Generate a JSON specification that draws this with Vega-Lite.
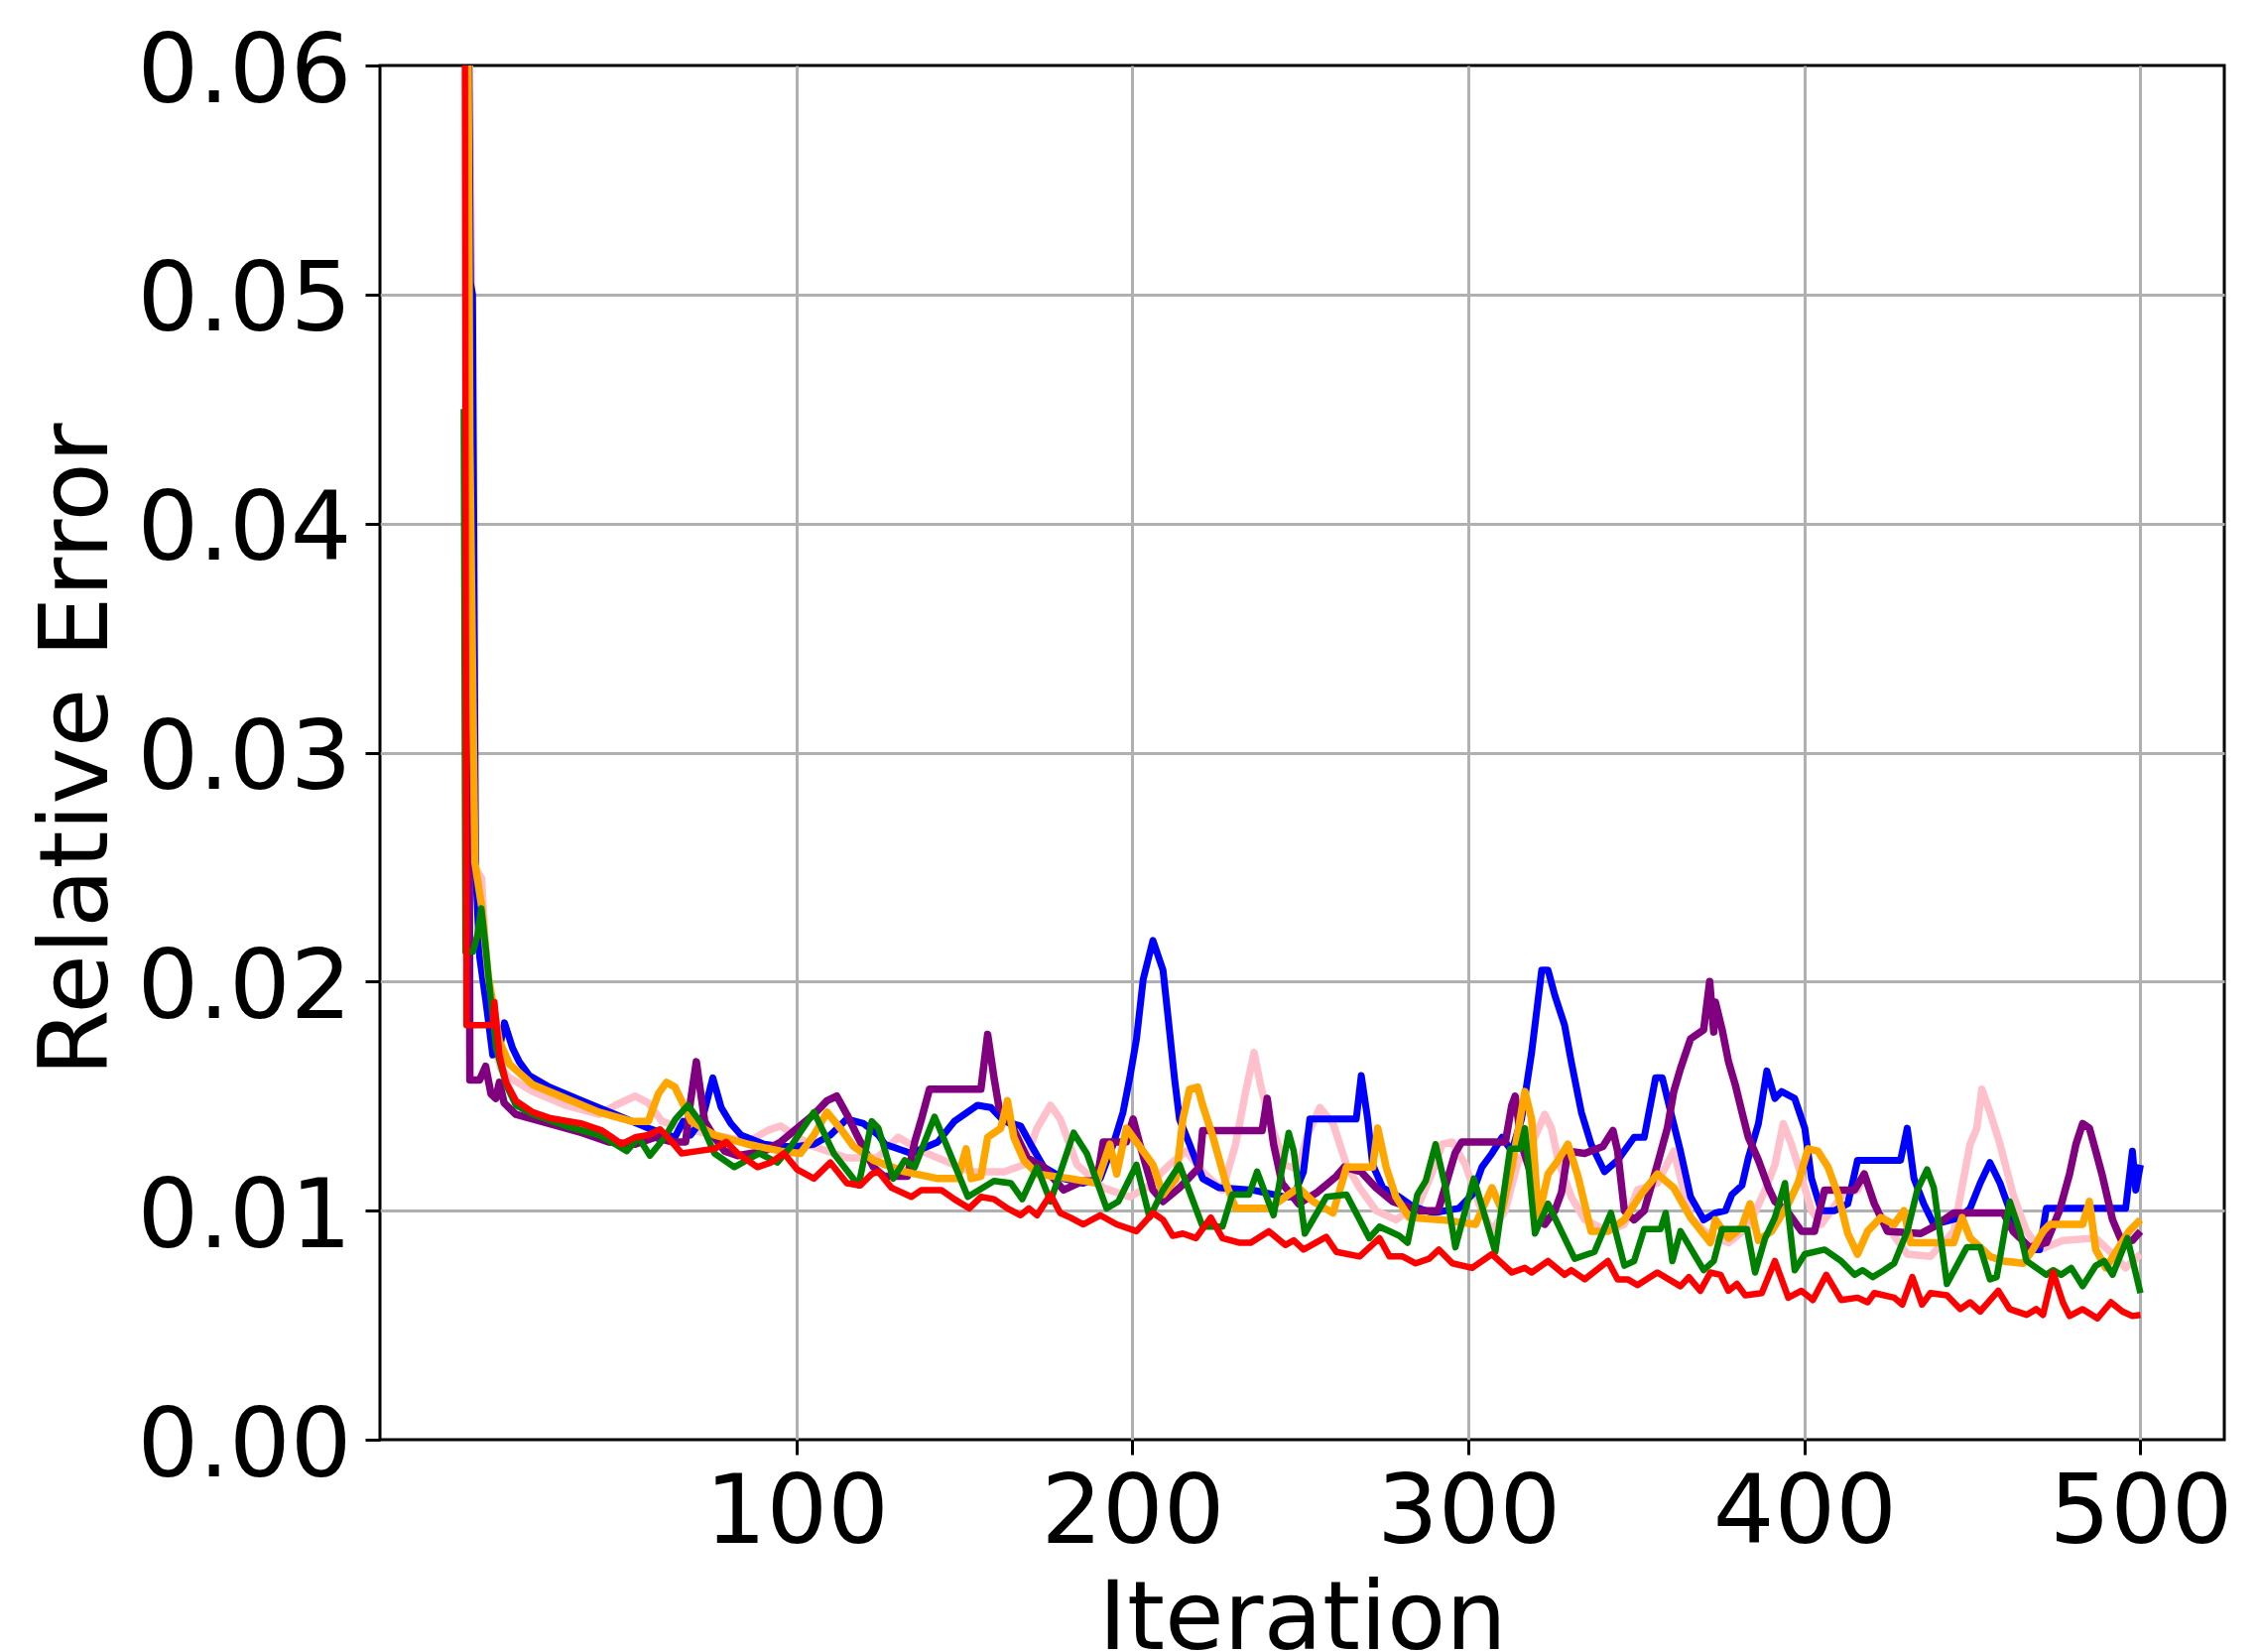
{
"$schema": "https://vega.github.io/schema/vega-lite/v6.json",
"width": 1859, "height": 1385,
"autosize": {"type": "none"},
"padding": {"left": 383, "top": 66, "right": 37, "bottom": 214},
"background": "white",
"config": {"view": {"stroke": "black", "strokeWidth": 3}},
"datasets": {
"blue": [[1,0.12],[2,0.07],[3,0.0505],[3.6,0.05],[4.5,0.025],[5.7,0.0211],[7.7,0.019],[9.6,0.0168],[11.5,0.017],[13.1,0.0182],[15.5,0.0171],[17.5,0.0165],[20.5,0.0159],[26.4,0.0154],[36.2,0.0148],[46.1,0.0142],[55.9,0.0136],[63.8,0.0132],[66.3,0.0139],[68.5,0.0133],[72,0.014],[75.1,0.0158],[77.6,0.0145],[80.5,0.0138],[83.5,0.0133],[90.4,0.0129],[95.3,0.0128],[100.2,0.0128],[105.2,0.0129],[110.1,0.0133],[115,0.014],[120,0.0138],[124.4,0.0133],[126.3,0.0129],[134.2,0.0125],[142.1,0.013],[147,0.0139],[153.9,0.0146],[157.9,0.0145],[161.8,0.0139],[166.7,0.0137],[169.7,0.0129],[173.6,0.0119],[179.5,0.0114],[185.4,0.0112],[190.4,0.0114],[194.3,0.0129],[197.2,0.0143],[199.2,0.0158],[201.2,0.0175],[203.2,0.0201],[206.1,0.0218],[209.1,0.0205],[211,0.0179],[212.5,0.0158],[214,0.014],[217,0.0129],[220.9,0.0114],[225.8,0.011],[235.7,0.0109],[245.5,0.0106],[247.9,0.0106],[250.9,0.0117],[252.8,0.014],[266.6,0.014],[268.1,0.0159],[270,0.014],[271.5,0.012],[274.5,0.011],[279.4,0.0106],[283.3,0.0102],[289.3,0.0099],[297.1,0.0101],[301.1,0.0107],[304,0.0119],[307,0.0125],[310,0.0132],[312.9,0.0126],[315.8,0.014],[318.8,0.0169],[321.8,0.0205],[323.7,0.0205],[325.7,0.0194],[328.6,0.0181],[330.6,0.0165],[333.6,0.0143],[336.5,0.0129],[340.5,0.0117],[344.4,0.0122],[349.3,0.0132],[352.3,0.0132],[355.7,0.0158],[357.7,0.0158],[360.2,0.0143],[363.1,0.0126],[366.1,0.0106],[370,0.0096],[373.5,0.0099],[376.5,0.01],[378.4,0.0107],[381.4,0.0111],[383.3,0.0123],[386.3,0.0138],[388.8,0.0161],[391.2,0.0149],[393.2,0.0152],[397.1,0.0149],[400.1,0.0136],[402.1,0.0114],[405,0.01],[409,0.01],[412.9,0.0103],[415.8,0.0122],[428.6,0.0122],[430.6,0.0136],[432.6,0.0114],[435.5,0.0103],[438.5,0.0094],[446.4,0.0097],[449.3,0.0101],[452.3,0.0112],[455.2,0.0121],[458.2,0.0112],[462.1,0.0096],[466.1,0.0083],[470,0.0083],[472,0.0101],[495.6,0.0101],[497.6,0.0126],[498.6,0.0109],[500,0.012]],
"purple": [[1,0.1],[2,0.065],[2.8,0.0157],[5.7,0.0157],[7.5,0.0163],[9.1,0.0151],[10.5,0.0149],[11.6,0.0156],[13,0.0147],[16.5,0.0142],[26.4,0.0138],[36.2,0.0134],[44.1,0.013],[52,0.0129],[58,0.0132],[63,0.013],[67,0.013],[68.5,0.0148],[70.2,0.0165],[72.7,0.0139],[75.6,0.0132],[78.6,0.0126],[82.5,0.0124],[90.4,0.0126],[95.3,0.013],[100.2,0.0136],[105.2,0.0142],[109.1,0.0148],[112,0.015],[115,0.0142],[118,0.0133],[122.9,0.0119],[126,0.0115],[133,0.0115],[135.2,0.013],[137.2,0.014],[139.6,0.0153],[154.9,0.0153],[156.9,0.0177],[158.8,0.0158],[160.3,0.0145],[163.8,0.0138],[168.7,0.0123],[173.6,0.0119],[179.5,0.0109],[185.4,0.0113],[189.4,0.0113],[191.3,0.013],[198.2,0.013],[200.2,0.014],[202.2,0.0129],[206.1,0.0109],[209.1,0.0104],[214,0.011],[219.9,0.0119],[220.9,0.0135],[238.6,0.0135],[240.1,0.0149],[242,0.0129],[244.5,0.0112],[249.4,0.0103],[255,0.0108],[260.7,0.0115],[263,0.0119],[268,0.0117],[272.5,0.011],[277.4,0.0104],[285.3,0.01],[291,0.01],[296,0.0125],[298,0.013],[311,0.013],[312.9,0.0146],[313.9,0.015],[315.8,0.0129],[318.8,0.0115],[322.7,0.0094],[325.7,0.01],[327.7,0.0108],[329.6,0.0126],[334.6,0.0125],[340,0.0128],[343,0.0135],[344.4,0.0126],[346.4,0.01],[349.3,0.0096],[352.3,0.01],[356.2,0.012],[359.2,0.0136],[361.1,0.0152],[363.1,0.0162],[366.1,0.0175],[370,0.0179],[371.8,0.02],[373,0.0178],[373.5,0.0191],[375.5,0.0179],[377.4,0.0165],[379.4,0.0155],[381.4,0.0143],[383.3,0.0132],[386.3,0.0122],[389.3,0.011],[391.2,0.0104],[395.2,0.0099],[399.1,0.0091],[403,0.0091],[406,0.0109],[414.9,0.0109],[417.8,0.0116],[420.8,0.0103],[424.7,0.0091],[434.6,0.009],[438.5,0.0093],[444.4,0.0099],[459.2,0.0099],[462.1,0.0091],[467,0.0084],[472,0.0086],[475.9,0.01],[478.9,0.0116],[480.8,0.0129],[482.8,0.0138],[484.8,0.0136],[486.7,0.0126],[488.7,0.0115],[491.7,0.0096],[494.6,0.0086],[497.6,0.0087],[500,0.0091]],
"pink": [[1,0.1],[2,0.07],[3.3,0.0507],[4.3,0.025],[6.3,0.0245],[8,0.02],[9.6,0.0175],[12,0.0162],[14.6,0.0158],[21.5,0.0152],[31.3,0.0146],[41.2,0.0142],[46.1,0.0146],[52,0.015],[55.9,0.0147],[60,0.0139],[66,0.0136],[75.6,0.0133],[85.5,0.013],[91.4,0.0135],[95.3,0.0137],[99.3,0.0133],[105.2,0.0128],[115,0.0123],[124,0.0123],[130.3,0.0132],[137.2,0.0126],[147,0.012],[151.9,0.0117],[161.8,0.0117],[167.7,0.012],[171.6,0.0136],[175.6,0.0146],[178.5,0.014],[183.5,0.012],[191.3,0.011],[199.2,0.0106],[204.1,0.011],[211,0.012],[216,0.0126],[220.9,0.0117],[226.8,0.0109],[230.7,0.0129],[233.7,0.0152],[236.2,0.0169],[238.1,0.0155],[240.6,0.014],[245.5,0.012],[249.4,0.0118],[251.8,0.0132],[255.8,0.0145],[259.7,0.0138],[263.7,0.012],[267.6,0.011],[272.5,0.01],[278.4,0.0096],[285.3,0.0103],[289.3,0.0117],[292.2,0.0129],[295.2,0.013],[299.1,0.012],[303.1,0.0103],[307,0.0091],[310.9,0.01],[314.9,0.0122],[318.8,0.0129],[322.7,0.0142],[324.7,0.0136],[326.7,0.0122],[330.6,0.0106],[334.6,0.0096],[341.5,0.0091],[346.4,0.0094],[350.3,0.0109],[356.2,0.0112],[361.1,0.0126],[366.1,0.0097],[371,0.009],[373.5,0.0088],[377.4,0.0086],[383.3,0.0093],[388.3,0.0109],[391.2,0.012],[393.7,0.0138],[396.1,0.0129],[399.1,0.0115],[402.1,0.01],[405,0.0094],[410.9,0.0106],[415.8,0.0109],[417.8,0.0116],[420.8,0.0103],[424.7,0.0093],[430.6,0.0081],[437.5,0.008],[444.4,0.0091],[449.3,0.0129],[451.3,0.0136],[452.8,0.0153],[455.2,0.0143],[458.2,0.0129],[462.1,0.0107],[466.1,0.0091],[470,0.0083],[476.9,0.0087],[486.7,0.0088],[491.7,0.0081],[495.6,0.0075],[500,0.0081]],
"orange": [[1,0.1],[2,0.07],[2.8,0.0435],[4.3,0.0252],[6.3,0.0233],[8.3,0.0202],[11.6,0.0174],[14.6,0.0164],[21.5,0.0155],[31.3,0.0149],[41.2,0.0143],[51,0.0139],[55.9,0.0139],[58.9,0.0151],[61.3,0.0156],[63.8,0.0154],[65.8,0.0148],[68.7,0.0139],[75.6,0.0133],[85.5,0.0129],[95.3,0.0126],[101.2,0.0125],[105.2,0.0133],[109.1,0.0143],[113,0.0136],[117,0.0128],[122.9,0.0122],[132.2,0.0117],[142.1,0.0114],[148,0.0114],[150.5,0.0127],[152,0.0114],[154.9,0.0115],[156.9,0.0132],[160.8,0.0136],[162.8,0.0148],[164.7,0.0132],[167.7,0.0122],[171.6,0.0116],[181.5,0.0114],[189.4,0.0112],[193.3,0.0129],[195.3,0.0116],[198.2,0.0136],[201.2,0.013],[206.1,0.012],[209.1,0.0107],[213,0.0114],[215,0.014],[217,0.0153],[219.4,0.0154],[220.9,0.0146],[223.8,0.0133],[227.8,0.0112],[230.7,0.0101],[240.6,0.0101],[245.5,0.0106],[249.4,0.011],[253.8,0.0104],[259.7,0.0099],[263.7,0.0119],[271.5,0.0119],[273,0.0136],[275.5,0.0119],[278.4,0.0106],[282.4,0.0097],[292.2,0.0096],[302.1,0.0094],[307,0.011],[310,0.01],[312.9,0.0119],[316.8,0.0152],[318.8,0.014],[320.8,0.0097],[323.7,0.0116],[326.7,0.0122],[329.6,0.0129],[332.6,0.0115],[336.5,0.0091],[341.5,0.0091],[346.4,0.0096],[351.3,0.0107],[356.2,0.0116],[361.1,0.011],[366.1,0.0097],[372,0.0086],[373.5,0.0096],[377.4,0.0088],[381.4,0.0093],[383.8,0.0103],[386.3,0.0087],[390.2,0.0091],[395.2,0.0103],[398.1,0.0112],[401.1,0.0127],[404,0.0126],[407,0.0119],[410,0.0107],[412.9,0.009],[415.8,0.0081],[418.8,0.0091],[422.7,0.0097],[426.7,0.0094],[429.6,0.01],[431.6,0.0086],[444.4,0.0086],[446.9,0.0097],[449.3,0.0088],[455.2,0.008],[459.2,0.0078],[465.1,0.0077],[468,0.0083],[471,0.0091],[473,0.0094],[482.8,0.0094],[484.8,0.0104],[486.7,0.0083],[489.7,0.0075],[493.6,0.0084],[496.6,0.0091],[500,0.0096]],
"green": [[1,0.045],[1.5,0.0213],[3.7,0.0213],[5,0.022],[6.2,0.0232],[7.5,0.0215],[8.7,0.0197],[10.6,0.0171],[13.6,0.0155],[16.5,0.0146],[21.5,0.0142],[31.3,0.0137],[41.2,0.0133],[46.1,0.0129],[49.5,0.0126],[53,0.0132],[56.4,0.0124],[60.8,0.0132],[64,0.014],[67.7,0.0146],[71.7,0.0138],[75.6,0.0125],[81.5,0.0119],[88.9,0.0125],[94.3,0.0121],[98.3,0.0128],[105.2,0.0143],[111.1,0.0125],[118.5,0.0111],[122.4,0.0139],[124.4,0.0136],[128.8,0.0114],[132.2,0.0122],[135.2,0.0119],[141.1,0.0141],[145.1,0.0127],[151,0.0106],[158.8,0.0113],[163.8,0.0112],[167.2,0.0105],[171.6,0.0119],[175.6,0.0104],[182.5,0.0134],[186.4,0.0125],[192.3,0.0101],[195.8,0.0104],[201.2,0.012],[205.1,0.0097],[209.1,0.0109],[214,0.012],[220.9,0.0093],[226.8,0.0093],[229.7,0.0107],[234.7,0.0107],[237.1,0.0117],[242,0.0098],[246.5,0.0134],[248,0.0126],[251.3,0.009],[257.7,0.0106],[263.7,0.0107],[270.5,0.0088],[273.5,0.0093],[279.4,0.0089],[281.9,0.0086],[284.8,0.0107],[287.3,0.0113],[290.2,0.0129],[293.2,0.011],[296.1,0.0084],[301.6,0.0114],[308,0.0082],[312.4,0.0127],[315.4,0.0127],[316.8,0.0136],[319.8,0.009],[323.7,0.0103],[331.6,0.0079],[337.5,0.0082],[342.4,0.0099],[346.4,0.0076],[349.3,0.0078],[352.3,0.0092],[357.2,0.0092],[358.7,0.0099],[360.7,0.0078],[363.1,0.0091],[370,0.0074],[373,0.0078],[375.5,0.0092],[382.9,0.0092],[385.3,0.0073],[388.3,0.0088],[391.2,0.0097],[394.2,0.0112],[397.1,0.0074],[400.1,0.0081],[406,0.0083],[410.9,0.0078],[414.9,0.0072],[417.3,0.0074],[420.3,0.0071],[423.7,0.0074],[426.7,0.0077],[430.6,0.0091],[433.6,0.0109],[436.5,0.0118],[438.5,0.011],[442.4,0.0068],[448.3,0.0084],[452.3,0.0084],[455.2,0.007],[457.2,0.0071],[461.1,0.0104],[464.1,0.0091],[466.1,0.0078],[472,0.0072],[474,0.0074],[476.4,0.0072],[479.4,0.0075],[482.8,0.0067],[486.7,0.0076],[489.2,0.0078],[491.7,0.0072],[496.1,0.0088],[500,0.0064]],
"red": [[1,0.09],[1.8,0.0181],[9.6,0.0181],[10.1,0.0191],[11.6,0.0168],[13.6,0.0156],[16.5,0.0148],[21.5,0.0143],[26.4,0.01405],[36.2,0.0138],[42.1,0.0135],[45.1,0.0132],[48,0.0129],[52,0.0132],[55.9,0.0133],[59.4,0.01355],[61.8,0.0132],[65.8,0.0125],[70.7,0.0126],[75.6,0.0127],[79.1,0.013],[82.5,0.0125],[88.4,0.0119],[92.4,0.0121],[96.3,0.0125],[100.2,0.0118],[105.2,0.0114],[110.1,0.0121],[115,0.0112],[119,0.0111],[122.4,0.0116],[124.4,0.0117],[128.3,0.011],[134.2,0.0106],[137.2,0.0109],[143.1,0.0109],[147,0.0105],[151.4,0.0101],[154.9,0.0106],[158.8,0.0105],[162.8,0.0101],[166.7,0.0098],[169.2,0.0101],[171.6,0.0098],[175.6,0.0107],[178.5,0.0099],[181.5,0.0097],[185.4,0.0094],[190.4,0.0098],[195.3,0.0094],[201.2,0.0091],[206.1,0.0099],[209.1,0.0096],[212,0.0089],[215,0.009],[218.9,0.0088],[223.3,0.0097],[226.8,0.0088],[231.7,0.0086],[235.2,0.0086],[240.6,0.0091],[245.5,0.0085],[248,0.0087],[250.9,0.0083],[257.7,0.00885],[260.7,0.0082],[267.6,0.008],[273.5,0.0088],[276.5,0.008],[280.4,0.008],[284.3,0.0077],[288.3,0.0079],[291.2,0.0083],[295.2,0.0077],[301.1,0.0075],[307,0.0081],[312.9,0.0073],[316.8,0.0075],[318.8,0.0073],[323.7,0.0078],[328.6,0.0072],[330.6,0.0074],[334.6,0.007],[341.5,0.0078],[344.4,0.007],[347.4,0.007],[350.3,0.00675],[356.2,0.0073],[363.1,0.0067],[365.6,0.0071],[369,0.0065],[372,0.0073],[375,0.0072],[377.4,0.0065],[379.9,0.0068],[382.4,0.0063],[387.3,0.0064],[391.2,0.0078],[395.2,0.0062],[399.1,0.0065],[402.5,0.0061],[406.5,0.0072],[410.9,0.0061],[415.8,0.0062],[418.8,0.006],[420.8,0.0064],[426.7,0.0062],[429.1,0.0059],[432.1,0.0071],[435,0.0059],[437.5,0.0064],[442.4,0.0063],[446.4,0.0057],[449.3,0.006],[452.3,0.0056],[457.7,0.0065],[461.1,0.0057],[466.1,0.00545],[469,0.0057],[471,0.00545],[474,0.0073],[476.9,0.006],[478.9,0.0054],[482.8,0.0057],[487.2,0.0053],[491.2,0.006],[494.6,0.0056],[497.6,0.0054],[500,0.00545]]
},
"encoding": {
  "x": {"field": "0", "type": "quantitative",
    "scale": {"domain": [-23.95, 524.95], "nice": false, "zero": false},
    "axis": {"values": [100, 200, 300, 400, 500], "format": "d", "title": "Iteration",
      "domain": false, "grid": true, "gridColor": "#b0b0b0", "gridWidth": 3,
      "ticks": true, "tickSize": 15, "tickWidth": 3, "tickColor": "black",
      "labelFont": "DejaVu Sans", "labelFontSize": 97, "labelColor": "black", "labelPadding": 11,
      "labelFlush": false, "labelOverlap": false, "labelLimit": 0,
      "titleFont": "DejaVu Sans", "titleFontSize": 97, "titleFontWeight": "normal", "titleColor": "black",
      "titleBaseline": "alphabetic", "titleY": 210, "titleLimit": 0}},
  "y": {"field": "1", "type": "quantitative",
    "scale": {"domain": [0, 0.06], "nice": false, "zero": true},
    "axis": {"values": [0, 0.01, 0.02, 0.03, 0.04, 0.05, 0.06], "format": ".2f", "title": "Relative Error",
      "domain": false, "grid": true, "gridColor": "#b0b0b0", "gridWidth": 3,
      "gridOpacity": {"condition": {"test": "datum.value <= 0.0001 || datum.value >= 0.0599", "value": 0}, "value": 1},
      "ticks": true, "tickSize": 15, "tickWidth": 3, "tickColor": "black",
      "labelFont": "DejaVu Sans", "labelFontSize": 97, "labelColor": "black", "labelPadding": 14,
      "labelAlign": "right", "labelBaseline": "middle", "labelOffset": 7,
      "labelFlush": false, "labelOverlap": false, "labelLimit": 0,
      "titleFont": "DejaVu Sans", "titleFontSize": 97, "titleFontWeight": "normal", "titleColor": "black",
      "titleAngle": 270, "titleAlign": "center", "titleBaseline": "alphabetic", "titleX": -276, "titleY": 689, "titleLimit": 0}}
},
"layer": [
  {"data": {"name": "pink"}, "mark": {"type": "line", "color": "#ffc0cb", "strokeWidth": 7.5, "clip": true, "strokeJoin": "round"}},
  {"data": {"name": "blue"}, "mark": {"type": "line", "color": "#0000ff", "strokeWidth": 7, "clip": true, "strokeJoin": "round"}},
  {"data": {"name": "purple"}, "mark": {"type": "line", "color": "#800080", "strokeWidth": 7.5, "clip": true, "strokeJoin": "round"}},
  {"data": {"name": "orange"}, "mark": {"type": "line", "color": "#ffa500", "strokeWidth": 7.5, "clip": true, "strokeJoin": "round"}},
  {"data": {"name": "green"}, "mark": {"type": "line", "color": "#008000", "strokeWidth": 6.5, "clip": true, "strokeJoin": "round"}},
  {"data": {"name": "red"}, "mark": {"type": "line", "color": "#ff0000", "strokeWidth": 6.5, "clip": true, "strokeJoin": "round"}}
]
}
